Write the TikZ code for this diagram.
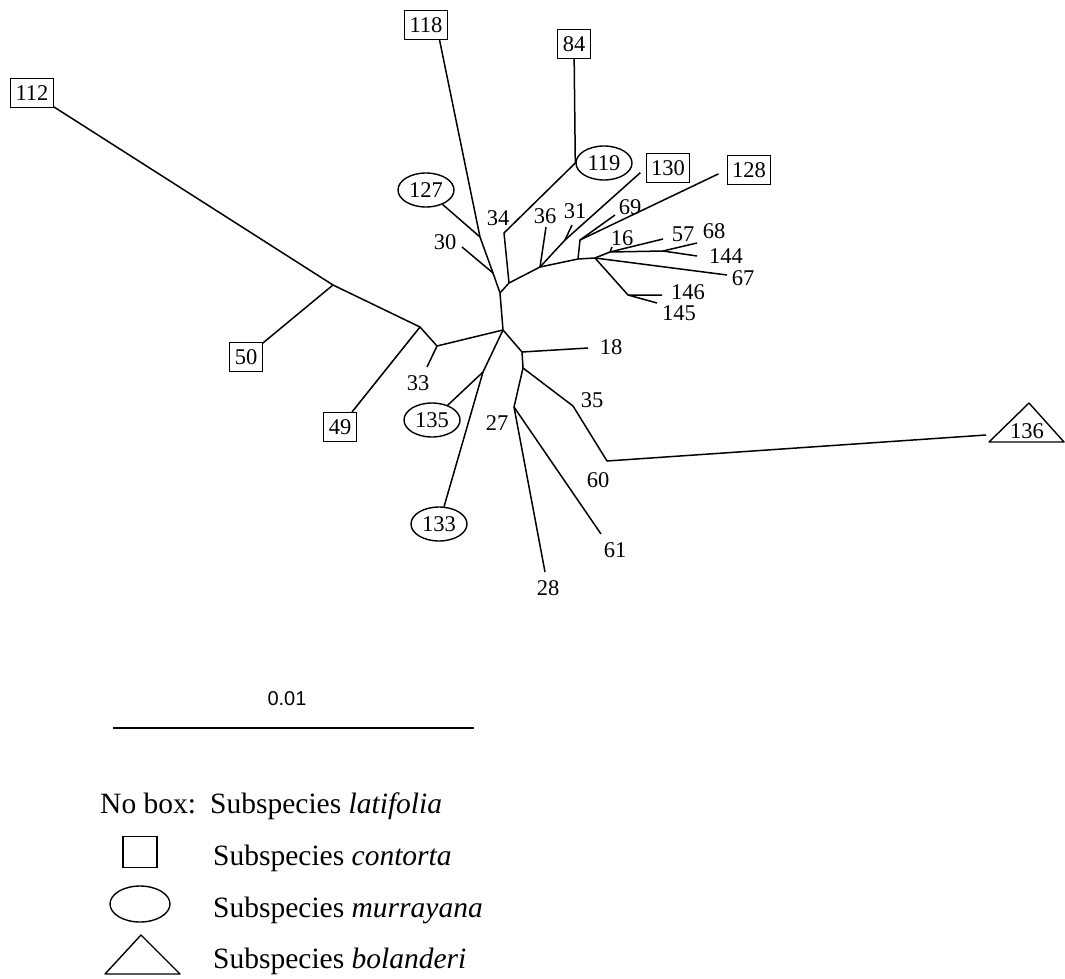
\documentclass[tikz,border=0pt]{standalone}
\usepackage{fontspec}
\setmainfont{Liberation Serif}
\setsansfont{Liberation Sans}
\usetikzlibrary{shapes.geometric}

\tikzset{
  branch/.style={line width=1.5pt, line join=round},
  taxon/.style={font=\fontsize{22.5}{24}\selectfont, inner sep=0pt},
  conbox/.style={taxon, draw, line width=1.1pt, inner xsep=5pt, minimum height=29pt},
  murnode/.style={taxon, draw, ellipse, line width=1.4pt, minimum width=56pt, minimum height=34pt},
  legend/.style={font=\fontsize{29.5}{32}\selectfont, anchor=base west, inner sep=0pt}
}

\begin{document}
\begin{tikzpicture}[x=1pt, y=-1pt]

  \useasboundingbox (0,0) rectangle (1065,979);

  %% branch points
  \foreach \n/\p in {A/{333,285}, B/{420,327}, C/{437,346}, O/{503,330}, P/{500,293},
                     S/{493,273}, R/{480,237}, T/{509,283}, K/{504,233}, U/{540,267},
                     V/{565,240}, W/{578,259}, X/{580,240}, Y/{595,258}, N/{610,252},
                     Z/{663,251}, Q/{628,295}, D/{522,352}, E/{523,368}, F/{514,407},
                     G/{573,406}, H/{607,461}, M/{483,372}}
    \coordinate (\n) at (\p);

  %% leaf tips
  \foreach \n/\p in {t33/{427,367}, t30/{462,247}, t36/{546,227}, t31/{572,225}, t69/{615,215},
                     t16/{612,247}, t57/{663,239}, t68/{697,243}, t144/{697,256}, t67/{727,275},
                     t146/{662,295}, t145/{657,303}, t18/{588,348}, t28/{545,572}, t61/{601,534},
                     t136/{986,435}}
    \coordinate (\n) at (\p);

  %% latifolia labels
  \foreach \n/\p in {33/{418,383}, 30/{445,242}, 34/{498,218}, 36/{545,216}, 31/{575,211},
                     69/{630,207}, 16/{622,238}, 57/{683,234}, 68/{714,231}, 144/{726,256},
                     67/{743,278}, 146/{688,292}, 145/{679,313}, 18/{611,347}, 35/{592,400},
                     27/{497,423}, 60/{598,480}, 28/{548,588}, 61/{615,550}}
    \node[taxon] (l\n) at (\p) {\n};

  %% contorta
  \node[conbox] (b112) at (32,93) {112};
  \node[conbox] (b50) at (246,357) {50};
  \node[conbox] (b49) at (340,427) {49};
  \node[conbox] (b118) at (426,25) {118};
  \node[conbox] (b84) at (574,44) {84};
  \node[conbox] (b130) at (668,168) {130};
  \node[conbox] (b128) at (749,170) {128};

  %% murrayana
  \node[murnode] (e127) at (426,190) {127};
  \node[murnode] (e119) at (604,163) {119};
  \node[murnode] (e135) at (432,420) {135};
  \node[murnode] (e133) at (439,524) {133};

  %% bolanderi
  \draw[line width=1.4pt, line join=round] (989,442) -- (1029,403) -- (1064,442) -- cycle;
  \node[taxon] (l136) at (1027,431) {136};

  %% tree
  \draw[branch] (b112) -- (A) -- (B) -- (C) -- (O);
  \draw[branch] (A) -- (b50);
  \draw[branch] (B) -- (b49);
  \draw[branch] (C) -- (t33);
  \draw[branch] (O) -- (P) -- (S) -- (R) -- (b118.-48);
  \draw[branch] (R) -- (e127);
  \draw[branch] (S) -- (t30);
  \draw[branch] (P) -- (T) -- (K) -- (e119.west) -- (b84);
  \draw[branch, shorten >=7pt] (T) -- (U) -- (V) -- (b130.west);
  \draw[branch] (U) -- (t36);
  \draw[branch] (V) -- (t31);
  \draw[branch, shorten >=9pt] (U) -- (W) -- (X) -- (b128.west);
  \draw[branch] (X) -- (t69);
  \draw[branch] (W) -- (Y) -- (N) -- (t57);
  \draw[branch] (N) -- (t16);
  \draw[branch] (N) -- (Z) -- (t68);
  \draw[branch] (Z) -- (t144);
  \draw[branch] (Y) -- (t67);
  \draw[branch] (Y) -- (Q) -- (t146);
  \draw[branch] (Q) -- (t145);
  \draw[branch] (O) -- (M) -- (e133);
  \draw[branch] (M) -- (e135);
  \draw[branch] (O) -- (D) -- (t18);
  \draw[branch] (D) -- (E) -- (F) -- (t28);
  \draw[branch] (F) -- (t61);
  \draw[branch] (E) -- (G) -- (H) -- (t136);

  %% scale bar
  \coordinate (s0) at (113,728);
  \coordinate (s1) at (474,728);
  \draw[line width=1.5pt] (s0) -- (s1);
  \node[font=\sffamily\fontsize{20}{22}\selectfont, inner sep=0pt] (scale) at (287,699) {0.01};

  %% legend
  \node[legend] (nobox) at (100,813) {No box:};
  \node[legend] (lat) at (210,813) {Subspecies \textit{latifolia}};
  \node[draw, line width=1.1pt, minimum width=34pt, minimum height=31pt, inner sep=0pt] (keybox) at (140,852) {};
  \node[legend] (con) at (213,865) {Subspecies \textit{contorta}};
  \node[draw, ellipse, line width=1.4pt, minimum width=60pt, minimum height=36pt, inner sep=0pt] (keyell) at (140,904) {};
  \node[legend] (mur) at (213,917) {Subspecies \textit{murrayana}};
  \draw[line width=1.4pt, line join=round] (105,974) -- (141,935) -- (180,974) -- cycle;
  \node[legend] (bol) at (213,968) {Subspecies \textit{bolanderi}};

\end{tikzpicture}
\end{document}
